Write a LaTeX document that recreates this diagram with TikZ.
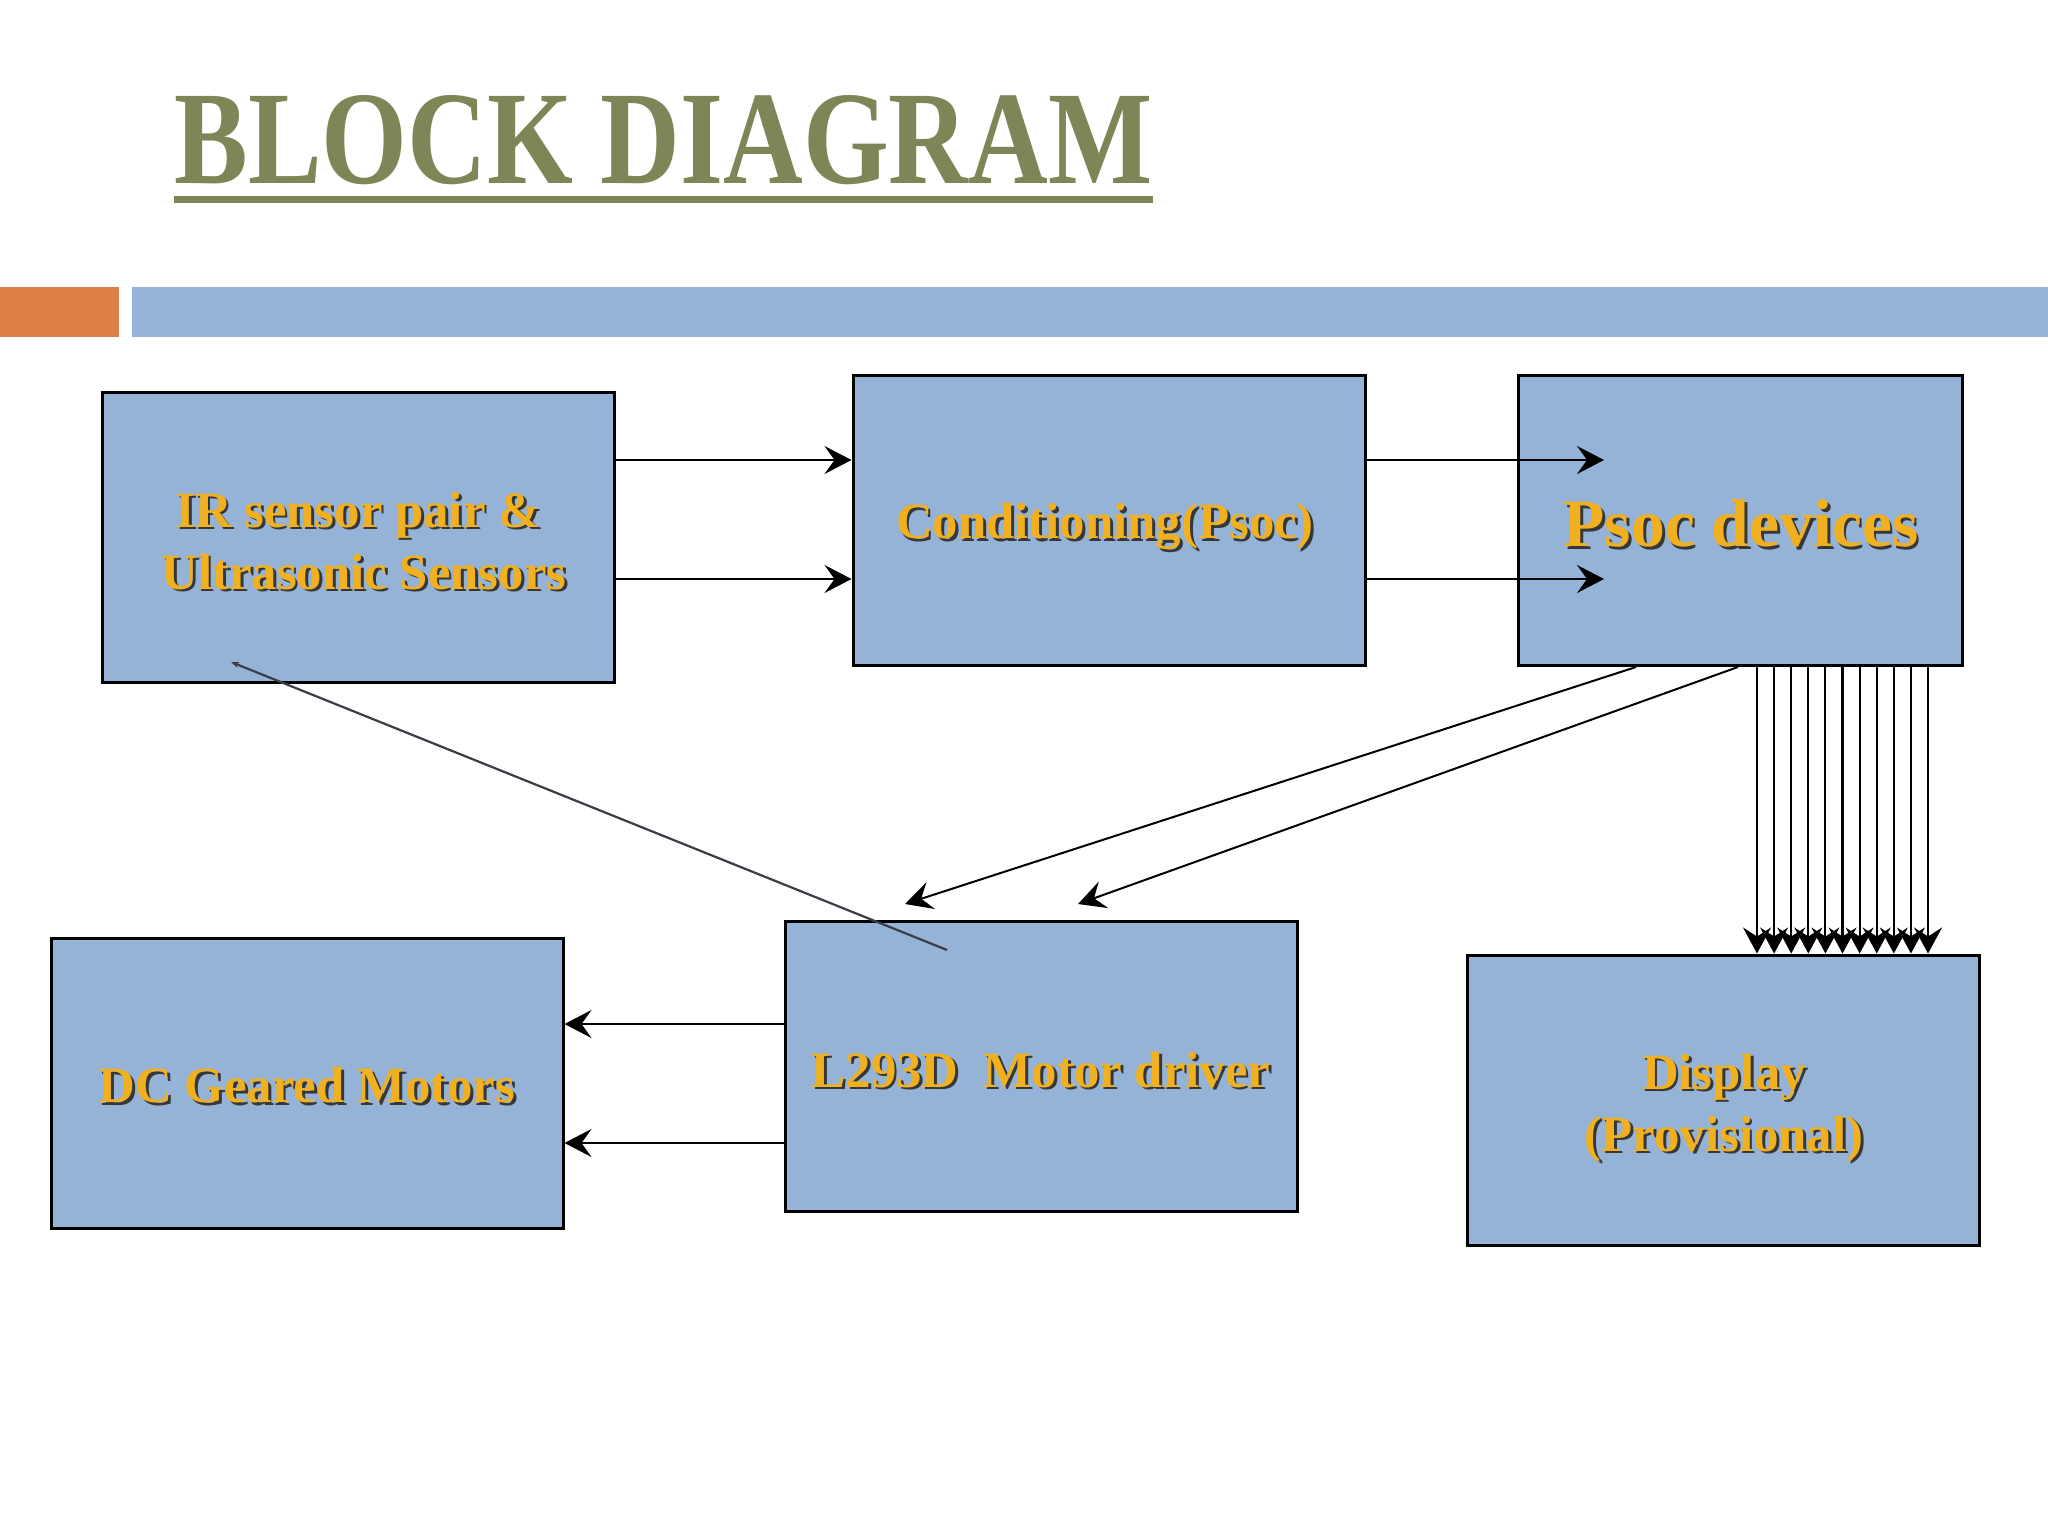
\documentclass[tikz,border=0pt]{standalone}
\usepackage{fontspec}
\setmainfont{Liberation Serif}
\usetikzlibrary{arrows.meta}
\definecolor{boxblue}{RGB}{149,179,215}
\definecolor{barorange}{RGB}{221,128,71}
\definecolor{titleolive}{RGB}{126,133,86}
\definecolor{labelgold}{RGB}{240,176,32}
\definecolor{shadowc}{RGB}{55,55,55}
\definecolor{thingray}{RGB}{60,60,70}
% shadowed label line; optional args: drop (down) and right shift
\newcommand\shd[3][0pt]{\raisebox{-#1}[\height][\depth]{\kern#2\leavevmode\rlap{\kern1.4pt\raisebox{-1.4pt}{\color{shadowc}#3}}#3\kern-#2}}
\begin{document}
\begin{tikzpicture}[x=0.5pt,y=-0.5pt,
  box/.style={draw=black, line width=1.5pt, fill=boxblue, minimum width=256pt,
    minimum height=145pt, inner sep=0pt, text=labelgold,
    font=\bfseries\fontsize{25.4}{31}\selectfont, align=center},
  conn/.style={line width=1pt, -{Stealth[length=13.5pt,width=14pt,inset=5pt]}},
  multi/.style={line width=1.05pt, -{Stealth[length=13pt,width=14pt,inset=4.5pt]}},
  thin/.style={line width=1.1pt, draw=thingray, -{Stealth[length=4pt,width=3pt]}}
]
\useasboundingbox (0,0) rectangle (2048,1536);
\fill[white] (0,0) rectangle (2048,1536);

% title
\node[anchor=base west, inner sep=0pt, text=titleolive,
  font=\bfseries\fontsize{66.5}{70}\selectfont] (title) at (174,183)
  {\scalebox{0.83}[1]{BLOCK DIAGRAM}};
\fill[titleolive] (174,196) rectangle (1153,203);

% bars
\fill[barorange] (0,287) rectangle (119,337);
\fill[boxblue] (132,287) rectangle (2048,337);

% boxes
\node[box] (ir) at (358,537) {\shd[2.6pt]{0pt}{IR sensor pair \&}\\\shd[2.6pt]{3pt}{Ultrasonic Sensors}};
\node[box] (cond) at (1109,520.5) {\shd[3.9pt]{-2pt}{Conditioning(Psoc)}};
\node[box, minimum width=222pt, font=\bfseries\fontsize{33.8}{40}\selectfont] (psoc) at (1740,520.5) {\shd[2pt]{0.5pt}{Psoc devices}};
\node[box] (dc) at (307,1083) {\shd[2pt]{0pt}{DC Geared Motors}};
\node[box] (drv) at (1041,1066) {\shd[2.6pt]{0pt}{L293D\ \ Motor driver}};
\node[box] (disp) at (1723,1100) {\shd[4.6pt]{0.5pt}{Display}\\\shd[4.6pt]{0.5pt}{(Provisional)}};

% IR -> Conditioning
\draw[conn] (ir.east |- 0,460) -- (cond.west |- 0,460);
\draw[conn] (ir.east |- 0,579) -- (cond.west |- 0,579);
% Conditioning -> Psoc
\draw[conn] (cond.east |- 0,460) -- (1604,460);
\draw[conn] (cond.east |- 0,579) -- (1604,579);

% Psoc -> driver
\coordinate (d1) at (905,904);
\coordinate (d2) at (1078,904);
\draw[conn] (psoc.south -| 1636,0) -- (d1);
\draw[conn] (psoc.south -| 1738,0) -- (d2);

% Psoc -> Display (bus)
\foreach \i in {0,...,10}{
  \pgfmathsetmacro{\xx}{1757+17.1*\i}
  \draw[multi] (psoc.south -| \xx,0) -- (disp.north -| \xx,0);
}

% driver -> DC motors
\draw[conn] (drv.west |- 0,1024) -- (dc.east |- 0,1024);
\draw[conn] (drv.west |- 0,1143) -- (dc.east |- 0,1143);

% feedback line
\coordinate (fbs) at (947,950);
\coordinate (fbe) at (231,662);
\draw[thin] (fbs) -- (fbe);
\end{tikzpicture}
\end{document}
